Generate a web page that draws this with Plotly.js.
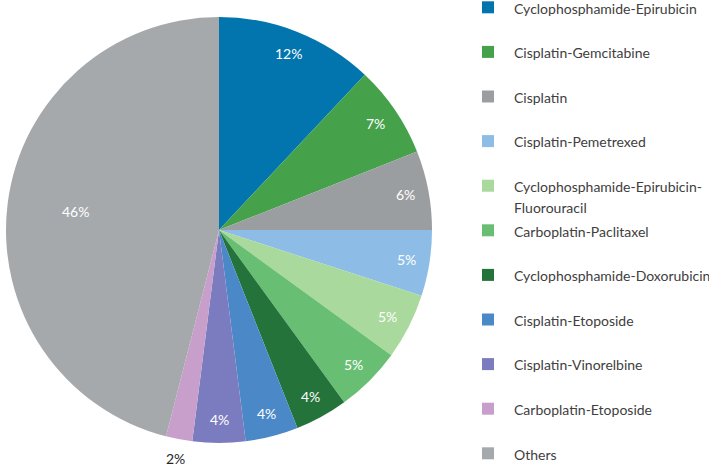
<!DOCTYPE html>
<html>
<head>
<meta charset="utf-8">
<script src="https://cdn.plot.ly/plotly-3.0.1.min.js"></script>
<style>html,body{margin:0;padding:0;background:#fff;}#chart{width:709px;height:468px;}</style>
</head>
<body>
<div id="chart"></div>
<script>
const categories = [
  "Cyclophosphamide-Epirubicin",
  "Cisplatin-Gemcitabine",
  "Cisplatin",
  "Cisplatin-Pemetrexed",
  "Cyclophosphamide-Epirubicin-<br>Fluorouracil",
  "Carboplatin-Paclitaxel",
  "Cyclophosphamide-Doxorubicin",
  "Cisplatin-Etoposide",
  "Cisplatin-Vinorelbine",
  "Carboplatin-Etoposide",
  "Others"
];
const shares = [12, 7, 6, 5, 5, 5, 4, 4, 4, 2, 46];
const colors = ["#0274AE", "#45A14A", "#9B9EA1", "#8DBDE6", "#A9D99C", "#68BF74",
                "#24733A", "#4A88C8", "#7B7CBF", "#C89FCB", "#A5A9AC"];

const W = 709, H = 468;
const FONT = "Lato, 'Open Sans', sans-serif";
// pie placement (paper fractions)
const domX = [0, 438 / W];
const domY = [1 - 443 / H, 1 - 17 / H];

// legend labels: every entry occupies two lines so the spacing matches
const legendLabels = categories.map(c => {
  const parts = c.split("<br>");
  const styled = parts.map(p => '<span style="font-size:14px">' + p + '</span>');
  if (styled.length < 2) styled.push(" ");
  return styled.join("<br>");
});

// percentage labels placed along each slice's mid-angle
const total = shares.reduce((a, b) => a + b, 0);
const cx = (domX[0] + domX[1]) / 2 * W;
const cy = (1 - (domY[0] + domY[1]) / 2) * H;
const R = Math.min((domX[1] - domX[0]) * W, (domY[1] - domY[0]) * H) / 2;
let cum = 0;
const annotations = shares.map(v => {
  const mid = (cum + v / 2) / total * 2 * Math.PI;
  cum += v;
  const frac = v / total;
  const outside = frac < 0.03;
  const f = outside ? 1.09 : (frac > 0.25 ? 0.68 : 0.89);
  const px = cx + f * R * Math.sin(mid);
  const py = cy - f * R * Math.cos(mid);
  return {
    x: px / W, y: 1 - py / H, xref: "paper", yref: "paper",
    xanchor: "center", yanchor: "middle", showarrow: false,
    text: v + "%",
    font: {family: FONT, size: 14, color: outside ? "#262626" : "#ffffff"}
  };
});

const trace = {
  type: "pie",
  labels: legendLabels,
  values: shares,
  sort: false,
  direction: "clockwise",
  rotation: 0,
  marker: {colors: colors, line: {width: 0}},
  textinfo: "none",
  hoverinfo: "none",
  domain: {x: domX, y: domY}
};

const layout = {
  width: W, height: H,
  margin: {l: 0, r: 0, t: 0, b: 0, autoexpand: false},
  paper_bgcolor: "#ffffff",
  showlegend: true,
  annotations: annotations,
  legend: {
    x: 462 / W, xanchor: "left",
    y: 1 + 9.6 / H, yanchor: "top",
    font: {family: FONT, size: 16, color: "#404040"},
    itemwidth: 42,
    valign: "top",
    traceorder: "normal",
    bgcolor: "rgba(0,0,0,0)",
    borderwidth: 0,
    maxheight: 1000,
    itemclick: false, itemdoubleclick: false
  }
};

Plotly.newPlot("chart", [trace], layout, {displayModeBar: false, staticPlot: true});
</script>
</body>
</html>
